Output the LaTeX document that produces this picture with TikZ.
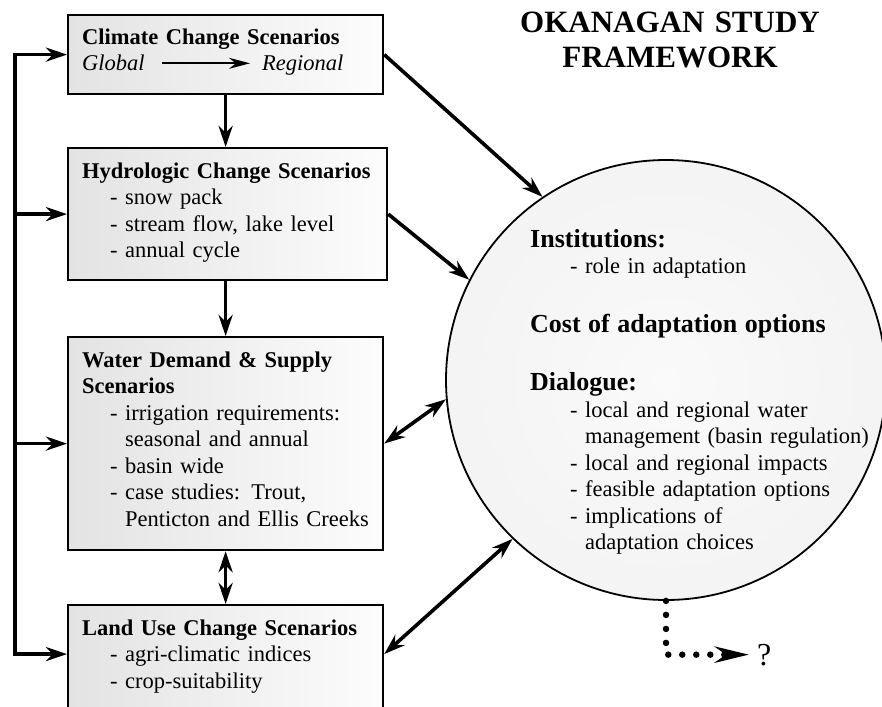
\documentclass[tikz,border=0pt]{standalone}
\usepackage{fontspec}
\setmainfont{Liberation Serif}
\usetikzlibrary{arrows.meta}
\pgfdeclareradialshading{discshade}{\pgfpoint{0bp}{0bp}}{color(0bp)=(black!2); color(30bp)=(black!5); color(50bp)=(black!14)}
\newcommand\itm{\hspace*{28pt}-\ }
\newcommand\cnt{\hspace*{28pt}\phantom{-}\ }
\newcommand\ditm{\hspace*{40pt}-\ }
\newcommand\dcnt{\hspace*{40pt}\phantom{-}\ }
\newcommand\headfont{\fontsize{26}{26.5}\selectfont\bfseries}
\begin{document}
\begin{tikzpicture}[x=1pt,y=-1pt,
    box/.style={draw,line width=2.2pt,left color=black!11,right color=black!1,anchor=north west,inner sep=0pt},
    txt/.style={anchor=base west,inner sep=0pt,align=left,text width=360pt,font=\fontsize{22.5}{26.5}\selectfont},
    arr/.style={line width=3.6pt,-{Stealth[length=21pt,width=14pt]}},
    dbl/.style={line width=3.6pt,{Stealth[length=21pt,width=14pt]}-{Stealth[length=21pt,width=14pt]}}]
  \useasboundingbox (0,0) rectangle (882,706);
  \node[draw,circle,line width=1.8pt,inner sep=0pt,minimum size=440pt,shading=discshade] (circ) at (666,380) {};
  \node[box,minimum width=315pt,minimum height=79pt] (climate) at (67,14) {};
  \node[box,minimum width=319pt,minimum height=132pt] (hydro) at (67,147) {};
  \node[box,minimum width=315pt,minimum height=213pt] (water) at (67,336) {};
  \node[box,minimum width=315pt,minimum height=108pt] (land) at (67,604) {};
  \node[anchor=base,align=center,text width=420pt,inner sep=0pt,font=\fontsize{31}{35}\selectfont\bfseries] (title) at (670,33) {OKANAGAN STUDY\\FRAMEWORK};
  \node[txt] (climate-txt) at (82,45) {\textbf{Climate Change Scenarios}};
  \node[txt,text width=,font=\fontsize{22.5}{26.5}\selectfont\itshape] (global) at (82,71) {Global};
  \node[txt,text width=,font=\fontsize{22.5}{26.5}\selectfont\itshape] (regional) at (262,71) {Regional};
  \node[txt] (hydro-txt) at (82,178) {\textbf{Hydrologic Change Scenarios}\\
    \itm snow pack\\
    \itm stream flow, lake level\\
    \itm annual cycle};
  \node[txt] (water-txt) at (82,367) {\textbf{Water Demand \& Supply}\\
    \textbf{Scenarios}\\
    \itm irrigation requirements:\\
    \cnt seasonal and annual\\
    \itm basin wide\\
    \itm case studies: Trout,\\
    \cnt Penticton and Ellis Creeks};
  \node[txt] (land-txt) at (82,635) {\textbf{Land Use Change Scenarios}\\
    \itm agri-climatic indices\\
    \itm crop-suitability};
  \node[txt] (circ-txt) at (530,247) {{\headfont Institutions:}\\
    \ditm role in adaptation\\[32.5pt]
    {\headfont Cost of adaptation options}\\[31.5pt]
    {\headfont Dialogue:}\\
    \ditm local and regional water\\
    \dcnt management (basin regulation)\\
    \ditm local and regional impacts\\
    \ditm feasible adaptation options\\
    \ditm implications of\\
    \dcnt adaptation choices};
  \node[txt,text width=,font=\fontsize{32}{34}\selectfont] (unknown) at (757,665) {?};
  \draw[line width=2pt,-{Stealth[length=21pt,width=11pt]},shorten <=17pt,shorten >=12pt] (global.east) -- (global.east -| regional.west);
  \draw[arr] (climate.south) -- (hydro.north -| climate.south);
  \draw[arr] (water.north |- hydro.south) -- (water.north);
  \draw[dbl] (water.south) -- (land.north);
  \draw[arr] (climate.east) -- (circ.124);
  \draw[arr] (hydro.east) -- (circ.153);
  \draw[dbl] (water.east) -- (circ.185);
  \coordinate (land-in) at ([yshift=5pt]land.west);
  \coordinate (land-out) at ([yshift=5pt]land.east);
  \draw[dbl] (land-out) -- (circ.226);
  \coordinate (rail) at (15,0);
  \draw[dbl] (climate.west) -- (rail |- climate.west) -- (rail |- land-in) -- (land-in);
  \draw[arr] (rail |- hydro.west) -- (hydro.west);
  \draw[arr] (rail |- water.west) -- (water.west);
  \draw[line width=6.5pt,line cap=round,dash pattern=on 0pt off 14pt,-{Stealth[length=34pt,width=16pt]},shorten >=8pt] (circ.south) |- (unknown.west);
\end{tikzpicture}
\end{document}
